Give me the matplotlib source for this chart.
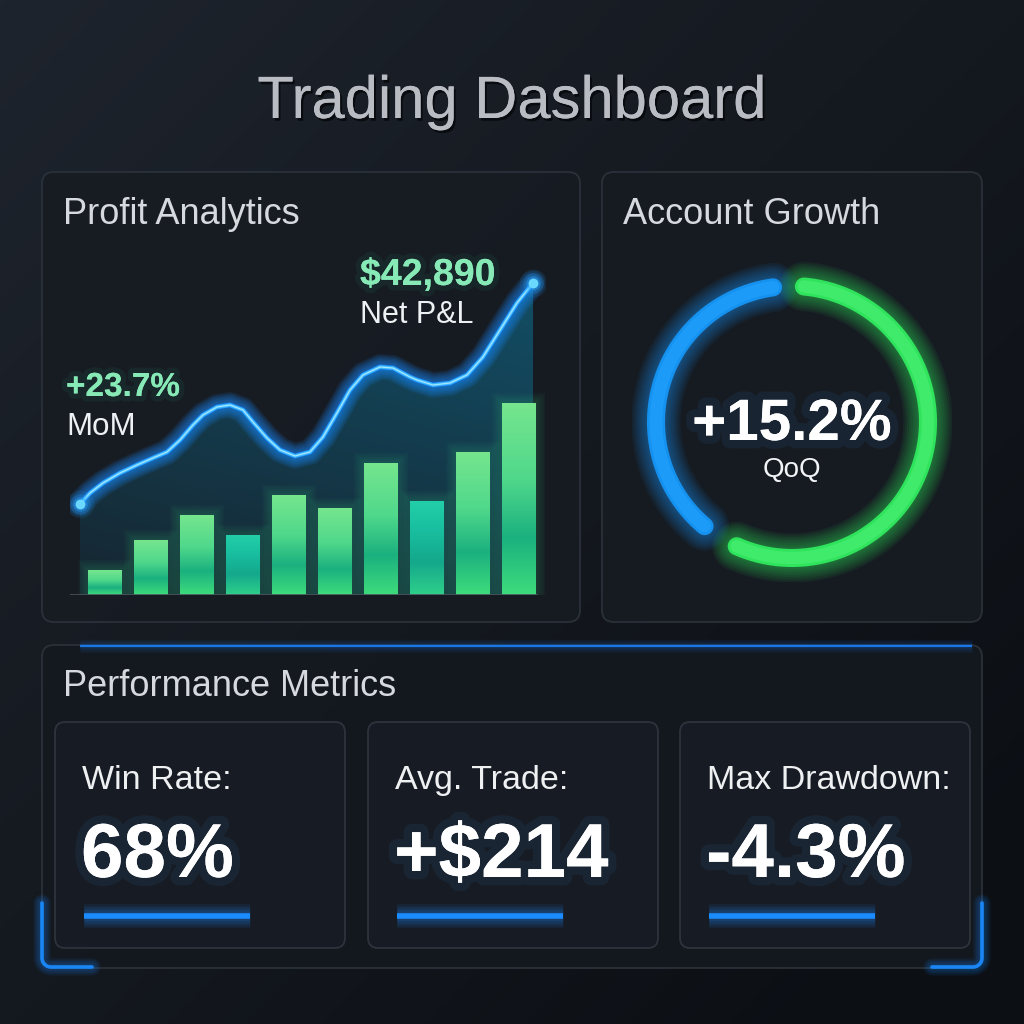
import numpy as np
import matplotlib
matplotlib.use('Agg')
import matplotlib.pyplot as plt
import matplotlib.patheffects as pe
from matplotlib.patches import FancyBboxPatch, Rectangle
from matplotlib.colors import LinearSegmentedColormap, to_rgb

plt.rcParams['font.family'] = ['Liberation Sans', 'DejaVu Sans']

# ---- data ----
bar_months = list(range(10))
bar_values = [25, 55, 80, 60, 100, 87, 132, 94, 143, 192]
bar_teal = [False, False, False, True, False, False, False, True, False, False]

line_x = [-0.545, -0.327, -0.044, 0.327, 0.697, 1.046, 1.351, 1.634, 1.917, 2.135,
          2.440, 2.723, 3.007, 3.224, 3.529, 3.813, 4.139, 4.466, 4.749, 5.054,
          5.338, 5.621, 5.991, 6.275, 6.645, 6.797, 7.146, 7.516, 7.887, 8.235,
          8.606, 8.976, 9.325]
line_y = [91, 102, 112, 122, 130, 137, 143, 155, 170, 180,
          188, 190, 185, 173, 157, 145, 139, 143, 158, 182,
          205, 220, 228, 227, 218, 215, 210, 212, 220, 238,
          265, 292, 312]

net_pnl = '$42,890'
mom_change = '+23.7%'
qoq_change = '+15.2%'
ring_blue_deg = (98, 230)
ring_green_deg = (-114, 85)

metric_labels = ['Win Rate:', 'Avg. Trade:', 'Max Drawdown:']
metric_values = ['68%', '+$214', '-4.3%']

# ---- figure and background ----
W = 1024
fig = plt.figure(figsize=(10.24, 10.24), dpi=100)
bg = fig.add_axes([0, 0, 1, 1])
bg.set_xlim(0, W)
bg.set_ylim(W, 0)
bg.axis('off')

gx, gy = np.meshgrid(np.linspace(0, 1, 200), np.linspace(0, 1, 200))
t = np.clip(0.55 * gx + 0.55 * gy, 0, 1)[..., None]
c0 = np.array(to_rgb('#1e242d'))
c1 = np.array(to_rgb('#0c0f14'))
bg.imshow(c0 * (1 - t) + c1 * t, extent=(0, W, W, 0), aspect='auto', zorder=0)


def px_axes(x0, y0, x1, y1):
    return fig.add_axes([x0 / W, 1 - y1 / W, (x1 - x0) / W, (y1 - y0) / W])


def panel(x0, y0, x1, y1, fc='#171c23', ec='#2d333c', r=12):
    bg.add_patch(FancyBboxPatch((x0, y0), x1 - x0, y1 - y0,
                                boxstyle=f'round,pad=0,rounding_size={r}',
                                fc=fc, ec=ec, lw=1.3, alpha=0.9, zorder=1))


def glow(ax, x, y, color, lw, layers=7, spread=3.0, alpha=0.07, z=3, cap='round'):
    for i in range(layers, 0, -1):
        ax.plot(x, y, color=color, lw=lw + i * spread, alpha=alpha,
                solid_capstyle=cap, solid_joinstyle='round', zorder=z)
    ax.plot(x, y, color=color, lw=lw, solid_capstyle=cap,
            solid_joinstyle='round', zorder=z + 0.1)


def text_glow(color, width=10, alpha=0.08):
    return [pe.withStroke(linewidth=width, foreground=color, alpha=alpha),
            pe.Normal()]


# title
bg.text(512, 118, 'Trading Dashboard', ha='center', va='baseline', fontsize=43,
        color='#b9bdc3', zorder=5,
        path_effects=[pe.withSimplePatchShadow(offset=(1.5, -2), shadow_rgbFace='#05070a', alpha=0.8),
                      pe.Normal()])

# panels
panel(42, 172, 580, 622)
panel(602, 172, 982, 622)
panel(42, 645, 982, 968, fc='#141920')
for cx in (55, 368, 680):
    panel(cx, 722, cx + 290, 948, fc='#181d25', ec='#30363f', r=10)

title_kw = dict(fontsize=26, color='#d6d9dd', va='baseline', zorder=5)
bg.text(63, 224, 'Profit Analytics', **title_kw)
bg.text(623, 224, 'Account Growth', **title_kw)
bg.text(63, 696, 'Performance Metrics', **title_kw)

# ---- profit chart ----
ax = px_axes(70, 260, 545, 595)
ax.axis('off')
unit = 45.9
xmin = -(105 - 70) / unit
xmax = xmin + 475 / unit

# area under the line
poly = ax.fill_between(line_x, line_y, 0, color='none', lw=0)
fy = np.linspace(0, 1, 120)[:, None]
fx = np.linspace(0, 1, 120)[None, :]
fill_rgba = np.zeros((120, 120, 4))
fill_rgba[..., :3] = to_rgb('#0f82aa')
fill_rgba[..., 3] = 0.10 + 0.30 * fy + 0.12 * fx
im = ax.imshow(fill_rgba, extent=(xmin, xmax, 0, 335), origin='lower',
               aspect='auto', zorder=1)
im.set_clip_path(poly.get_paths()[0], ax.transData)

# bars with vertical gradient and glow
green_cmap = LinearSegmentedColormap.from_list(
    'g', [(0, '#3fdc7c'), (0.3, '#1bb07f'), (0.6, '#4fd88b'), (1, '#76e58e')])
teal_cmap = LinearSegmentedColormap.from_list(
    't', [(0, '#2fd08a'), (0.35, '#14a88c'), (0.7, '#19bfa0'), (1, '#22cfa8')])
bw = 0.72
grad = np.linspace(0, 1, 256).reshape(-1, 1)
for m, v, teal in zip(bar_months, bar_values, bar_teal):
    for k in range(5, 0, -1):
        ax.add_patch(Rectangle((m - bw / 2, 0), bw, v, fc='none',
                               ec='#3be38a', lw=k * 3, alpha=0.035, zorder=2))
    rect = Rectangle((m - bw / 2, 0), bw, v, fc='none', ec='none', zorder=3)
    ax.add_patch(rect)
    bim = ax.imshow(grad, extent=(m - bw / 2, m + bw / 2, 0, v), origin='lower',
                    cmap=teal_cmap if teal else green_cmap, aspect='auto', zorder=3)
    bim.set_clip_path(rect)

ax.plot([xmin, 9.42], [0, 0], color='#4a525c', lw=1.2, zorder=4)

# neon line
glow(ax, line_x, line_y, '#1c8cff', 3.4, layers=8, spread=1.9, alpha=0.10, z=5)
ax.plot(line_x, line_y, color='#3fbcff', lw=2.4, zorder=6, solid_joinstyle='round')
ax.plot(line_x, line_y, color='#a6e6ff', lw=0.9, zorder=6, solid_joinstyle='round')
for px, py in [(line_x[0], line_y[0]), (line_x[-1], line_y[-1])]:
    for s, a in [(400, 0.09), (220, 0.18), (110, 0.35)]:
        ax.scatter(px, py, s=s, color='#2aa8ff', alpha=a, lw=0, zorder=7)
    ax.scatter(px, py, s=50, color='#6ad8ff', lw=0, zorder=8)

ax.set_xlim(xmin, xmax)
ax.set_ylim(0, 335)

bg.text(360, 285, net_pnl, fontsize=27, fontweight='bold', color='#86e9b6',
        va='baseline', zorder=9, path_effects=text_glow('#2ee08f', 8, 0.06))
bg.text(360, 323, 'Net P&L', fontsize=22, color='#eef1f3', va='baseline', zorder=9)
bg.text(66, 396, mom_change, fontsize=24, fontweight='bold', color='#86e9b6',
        va='baseline', zorder=9, path_effects=text_glow('#2ee08f', 8, 0.06))
bg.text(66, 435, 'MoM', fontsize=22.5, color='#eef1f3', va='baseline', zorder=9)

# ---- account growth ring ----
rax = px_axes(632, 262, 952, 582)
rax.set_xlim(-160, 160)
rax.set_ylim(-160, 160)
rax.set_aspect('equal')
rax.axis('off')
R = 136
for (a0, a1), col, core in [(ring_blue_deg, '#1592f0', '#22a4ff'),
                            (ring_green_deg, '#2fe35c', '#4cef74')]:
    th = np.radians(np.linspace(a0, a1, 240))
    glow(rax, R * np.cos(th), R * np.sin(th), col, 13, layers=8, spread=2.8,
         alpha=0.065, z=3)
    rax.plot(R * np.cos(th), R * np.sin(th), color=core, lw=9,
             solid_capstyle='round', alpha=0.6, zorder=4)

rax.text(0, -18, qoq_change, ha='center', va='baseline', fontsize=42,
         fontweight='bold', color='white', zorder=6,
         path_effects=text_glow('#3a8ef0', 12, 0.08))
rax.text(0, -55, 'QoQ', ha='center', va='baseline', fontsize=20,
         color='#f2f4f6', zorder=6)

# ---- performance metrics ----
for cx, lab, val in zip((55, 368, 680), metric_labels, metric_values):
    bg.text(cx + 27, 789, lab, fontsize=24.5, color='#eef0f2', va='baseline', zorder=6)
    bg.text(cx + 26, 877, val, fontsize=55, fontweight='bold', color='white',
            va='baseline', zorder=6, path_effects=text_glow('#4a96f5', 12, 0.08))
    glow(bg, [cx + 29, cx + 195], [916, 916], '#1a8cff', 4, layers=6,
         spread=2.2, alpha=0.07, z=6, cap='butt')

# blue highlight along top of metrics panel
glow(bg, [80, 972], [645.5, 645.5], '#1877e6', 1.6, layers=4, spread=2,
     alpha=0.06, z=4, cap='butt')

# corner brackets
r = 9
arc = np.radians(np.linspace(180, 270, 20))
lx = np.concatenate([[42], 42 + r + r * np.cos(arc), [92]])
ly = np.concatenate([[903], 967 - r - r * np.sin(arc), [967]])
glow(bg, lx, ly, '#1a86f5', 2.6, layers=5, spread=2, alpha=0.07, z=6)
glow(bg, 1024 - lx, ly, '#1a86f5', 2.6, layers=5, spread=2, alpha=0.07, z=6)

fig.savefig('out.png', dpi=100, facecolor='#12161c')
